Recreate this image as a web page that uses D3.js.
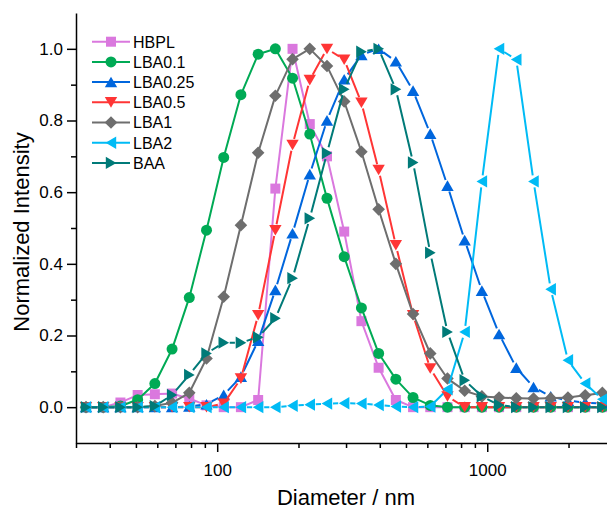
<!DOCTYPE html>
<html>
<head>
<meta charset="utf-8">
<script src="https://cdn.jsdelivr.net/npm/d3@7"></script>
<style>
  body { margin: 0; background: #fff; }
  text { font-family: "Liberation Sans", Arial, sans-serif; }
</style>
</head>
<body>
<div id="chart"></div>
<script>
// DLS size bins (nm)
var diameters = [32.67, 37.84, 43.82, 50.75, 58.77, 68.06, 78.82, 91.28, 105.7, 122.4,
  141.8, 164.2, 190.1, 220.2, 255.0, 295.3, 342.0, 396.1, 458.7, 531.2,
  615.1, 712.4, 825.0, 955.4, 1106, 1281, 1484, 1718, 1990, 2305, 2669];

var seriesNames = ["HBPL", "LBA0.1", "LBA0.25", "LBA0.5", "LBA1", "LBA2", "BAA"];

var hbpl = [0, 0, 0.013, 0.034, 0.036, 0.038, 0.024, 0.005, 0, 0,
  0.02, 0.61, 1.0, 0.79, 0.70, 0.49, 0.24, 0.11, 0.02, 0,
  0, 0, 0, 0, 0, 0, 0, 0, 0, 0, 0];
var lba01 = [0, 0, 0.003, 0.021, 0.066, 0.162, 0.306, 0.494, 0.697, 0.872,
  0.985, 1.0, 0.918, 0.762, 0.583, 0.42, 0.277, 0.15, 0.078, 0.027,
  0.005, 0, 0, 0, 0, 0, 0, 0, 0, 0, 0];
var lba025 = [0, 0, 0, 0, 0, 0, 0.002, 0.008, 0.034, 0.085,
  0.185, 0.327, 0.485, 0.65, 0.80, 0.915, 0.983, 1.0, 0.965, 0.883,
  0.763, 0.618, 0.466, 0.325, 0.204, 0.11, 0.056, 0.03, 0.018, 0.013, 0.01];
var lba05 = [0, 0, 0, 0, 0, 0, 0, 0, 0.01, 0.08,
  0.257, 0.494, 0.732, 0.913, 1.0, 0.97, 0.85, 0.662, 0.452, 0.257,
  0.108, 0.03, 0, 0, 0, 0, 0, 0, 0, 0, 0];
var lba1 = [0, 0, 0, 0, 0.003, 0.012, 0.04, 0.136, 0.308, 0.508,
  0.71, 0.869, 0.971, 1.0, 0.952, 0.853, 0.713, 0.552, 0.40, 0.26,
  0.15, 0.08, 0.046, 0.03, 0.027, 0.025, 0.024, 0.025, 0.027, 0.033, 0.04];
var lba2 = [0, 0, 0, 0, 0, 0, 0, 0, 0, 0,
  0, 0, 0.004, 0.007, 0.01, 0.011, 0.01, 0.006, 0.002, 0,
  0.002, 0.05, 0.21, 0.63, 1.0, 0.97, 0.63, 0.329, 0.131, 0.066, 0.022];
var baa = [0, 0, 0, 0, 0.003, 0.034, 0.09, 0.15, 0.18, 0.18,
  0.195, 0.248, 0.36, 0.527, 0.709, 0.887, 0.992, 1.0, 0.887, 0.683,
  0.431, 0.21, 0.075, 0.03, 0.006, 0, 0, 0, 0, 0, 0];

var yMajor = [0, 0.2, 0.4, 0.6, 0.8, 1.0];
var yMinor = [0.1, 0.3, 0.5, 0.7, 0.9];
var xMajor = [100, 1000];
var xMinor = [30, 40, 50, 60, 70, 80, 90, 200, 300, 400, 500, 600, 700, 800, 900, 2000];

var allValues = [hbpl, lba01, lba025, lba05, lba1, lba2, baa];
var colors = ["#DA78DE", "#00AA55", "#0066DD", "#FF3535", "#6E6E6E", "#00BBF5", "#007A78"];
var shapes = ["square", "circle", "up", "down", "diamond", "left", "right"];

var width = 607, height = 511;
var svg = d3.select("#chart").append("svg")
  .attr("width", width).attr("height", height);

var x = d3.scaleLog().domain([30, 2800]).range([76, 608]);
var y = d3.scaleLinear().domain([-0.1, 1.1]).range([443, 13]);

// marker path centred on 0,0
function markerPath(shape) {
  switch (shape) {
    case "square": return "M-5,-5H5V5H-5Z";
    case "circle": return "M5.5,0A5.5,5.5 0 1,1 -5.5,0A5.5,5.5 0 1,1 5.5,0Z";
    case "up": return "M0,-5.4L6.2,5.2L-6.2,5.2Z";
    case "down": return "M0,5.4L6.2,-5.2L-6.2,-5.2Z";
    case "left": return "M-5.4,0L5.2,-6.2L5.2,6.2Z";
    case "right": return "M5.4,0L-5.2,-6.2L-5.2,6.2Z";
    case "diamond": return "M0,-6.3L6.3,0L0,6.3L-6.3,0Z";
  }
}

// line segments that stop short of the symbols
function gappedPath(pts, gap) {
  var d = "";
  for (var i = 0; i < pts.length - 1; i++) {
    var a = pts[i], b = pts[i + 1];
    var dx = b[0] - a[0], dy = b[1] - a[1];
    var len = Math.sqrt(dx * dx + dy * dy);
    if (len <= 2 * gap) continue;
    var ux = dx / len, uy = dy / len;
    d += "M" + (a[0] + ux * gap) + "," + (a[1] + uy * gap) +
      "L" + (b[0] - ux * gap) + "," + (b[1] - uy * gap);
  }
  return d;
}

var gaps = { square: 4, circle: 4, up: 6, down: 6, diamond: 4, left: 6, right: 6 };

// Series
allValues.forEach(function (vals, s) {
  var g = svg.append("g");
  var pts = vals.map(function (v, i) { return [x(diameters[i]), y(v)]; });
  g.append("path")
    .attr("d", gappedPath(pts, gaps[shapes[s]]))
    .attr("fill", "none")
    .attr("stroke", colors[s])
    .attr("stroke-width", 2);
  g.selectAll(".m")
    .data(pts)
    .enter()
    .append("path")
    .attr("transform", function (p) { return "translate(" + p[0] + "," + p[1] + ")"; })
    .attr("d", markerPath(shapes[s]))
    .attr("fill", colors[s]);
});

// Axes
var yAxis = svg.append("g")
  .attr("transform", "translate(76,0)")
  .call(d3.axisLeft(y).tickValues(yMajor).tickFormat(d3.format(".1f"))
    .tickSize(9).tickPadding(4).tickSizeOuter(0));
svg.append("g")
  .attr("transform", "translate(76,0)")
  .call(d3.axisLeft(y).tickValues(yMinor).tickFormat("").tickSize(5).tickSizeOuter(0))
  .select(".domain").remove();

var xAxis = svg.append("g")
  .attr("transform", "translate(0,443)")
  .call(d3.axisBottom(x).tickValues(xMajor).tickFormat(d3.format("d"))
    .tickSize(9).tickPadding(12).tickSizeOuter(0));
svg.append("g")
  .attr("transform", "translate(0,443)")
  .call(d3.axisBottom(x).tickValues(xMinor).tickFormat("").tickSize(5).tickSizeOuter(0))
  .select(".domain").remove();

svg.selectAll(".domain").attr("stroke", "#000").attr("stroke-width", 1.5);
svg.selectAll(".tick line").attr("stroke", "#000").attr("stroke-width", 1.5);
svg.selectAll(".tick text")
  .style("font-family", "'Liberation Sans', Arial, sans-serif")
  .style("font-size", "17px")
  .attr("fill", "#000");

// Axis titles
svg.append("text")
  .attr("x", 346).attr("y", 505)
  .attr("text-anchor", "middle")
  .style("font-size", "22px")
  .text("Diameter / nm");

svg.append("text")
  .attr("transform", "translate(29,232) rotate(-90)")
  .attr("text-anchor", "middle")
  .style("font-size", "22px")
  .text("Normalized Intensity");

// Legend
var legend = svg.append("g");
seriesNames.forEach(function (name, s) {
  var cy = 41.7 + 20.2 * s;
  legend.append("line")
    .attr("x1", 92).attr("x2", 130)
    .attr("y1", cy).attr("y2", cy)
    .attr("stroke", colors[s]).attr("stroke-width", 2);
  legend.append("path")
    .attr("transform", "translate(111," + cy + ")")
    .attr("d", markerPath(shapes[s]))
    .attr("fill", colors[s]);
  legend.append("text")
    .attr("x", 133).attr("y", cy + 5.8)
    .style("font-size", "16px")
    .text(name);
});
</script>
</body>
</html>
